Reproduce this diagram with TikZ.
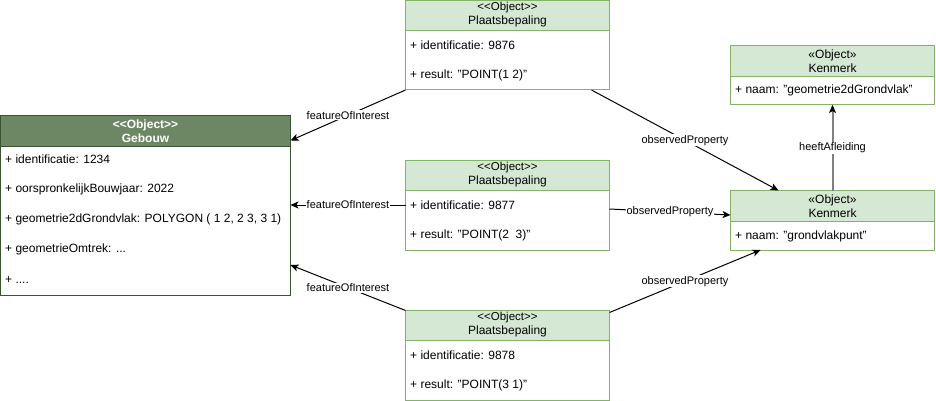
\documentclass[tikz,border=0pt]{standalone}
\usepackage{fontspec}
\setmainfont{Liberation Sans}
\usetikzlibrary{arrows.meta}
\definecolor{lgfill}{HTML}{D5E8D4}
\definecolor{lgdraw}{HTML}{82B366}
\definecolor{dgfill}{HTML}{6D8764}
\definecolor{dgdraw}{HTML}{3A5431}
\definecolor{grayline}{HTML}{808080}
\newcommand\umlbox[8]{%
  \node[boxshape, minimum width=#4pt, minimum height=#5pt] (#1) at (#2,#3) {};
  \fill[#7] (#1.north west) rectangle ([yshift=-#6pt]#1.north east);
  \draw[#8, line width=1pt] ([yshift=-#6pt]#1.north west) -- ([yshift=-#6pt]#1.north east);
  \draw[#8, line width=1pt] (#1.north west) rectangle (#1.south east);
}
\tikzset{
  boxshape/.style={rectangle, inner sep=0pt, outer sep=0pt, anchor=north west},
  hdr/.style={align=center, inner sep=0pt, font=\fontsize{12}{14}\selectfont},
  attr/.style={anchor=west, inner sep=0pt, font=\fontsize{12}{14}\selectfont},
  lbl/.style={fill=white, inner sep=1pt, font=\fontsize{11}{13}\selectfont},
  conn/.style={line width=1pt, -{Stealth[length=8pt,width=7pt,inset=2pt]}},
  gconn/.style={line width=2pt, draw=grayline, -{Stealth[length=8pt,width=7pt,inset=2pt,color=black,line width=0.5pt]}}
}
\begin{document}
\begin{tikzpicture}[x=1pt,y=-1pt]
\useasboundingbox (0,0) rectangle (936,401);

% Gebouw
\umlbox{geb}{0.5}{115.5}{290}{180}{31}{dgfill}{dgdraw}
\node[hdr, text=white, font=\fontsize{12}{14}\selectfont\bfseries] (gebh) at (145.5,131) {<{}<Object>{}>\\Gebouw};
\node[attr] (geb1) at (5,159) {+ identificatie: 1234};
\node[attr] (geb2) at (5,189) {+ oorspronkelijkBouwjaar: 2022};
\node[attr] (geb3) at (5,219) {+ geometrie2dGrondvlak: POLYGON ( 1 2, 2 3, 3 1)};
\node[attr] (geb4) at (5,249) {+ geometrieOmtrek: ...};
\node[attr] (geb5) at (5,280) {+ ....};

% Plaatsbepaling 1
\umlbox{p1}{405.5}{0.5}{204}{89.5}{30}{lgfill}{lgdraw}
\node[hdr] (p1h) at (507.5,15) {{\fontsize{11.5}{14}\selectfont <{}<Object>{}>}\\Plaatsbepaling};
\node[attr] (p1a) at (410,45) {+ identificatie: 9876};
\node[attr] (p1b) at (410,75) {+ result: "POINT(1 2)"};

% Plaatsbepaling 2
\umlbox{p2}{405.5}{160.5}{204}{89.5}{30}{lgfill}{lgdraw}
\node[hdr] (p2h) at (507.5,175) {{\fontsize{11.5}{14}\selectfont <{}<Object>{}>}\\Plaatsbepaling};
\node[attr] (p2a) at (410,205) {+ identificatie: 9877};
\node[attr] (p2b) at (410,235) {+ result: "POINT(2~~3)"};

% Plaatsbepaling 3
\umlbox{p3}{405.5}{310.5}{204}{89.5}{30}{lgfill}{lgdraw}
\node[hdr] (p3h) at (507.5,325) {{\fontsize{11.5}{14}\selectfont <{}<Object>{}>}\\Plaatsbepaling};
\node[attr] (p3a) at (410,355) {+ identificatie: 9878};
\node[attr] (p3b) at (410,385) {+ result: "POINT(3 1)"};

% Kenmerk 1
\umlbox{k1}{730.5}{45.5}{204}{59.5}{31}{lgfill}{lgdraw}
\node[hdr] (k1h) at (832.5,61) {«Object»\\Kenmerk};
\node[attr] (k1a) at (735,90.5) {+ naam: "geometrie2dGrondvlak"};

% Kenmerk 2
\umlbox{k2}{730.5}{190.5}{204}{59.5}{31}{lgfill}{lgdraw}
\node[hdr] (k2h) at (832.5,206) {«Object»\\Kenmerk};
\node[attr] (k2a) at (735,236) {+ naam: "grondvlakpunt"};

% connectors
\draw[conn] (p1.south west) -- node[lbl] (l1) {featureOfInterest} ([yshift=-25pt]geb.north east);
\draw[conn] ([yshift=-44.5pt]p2.north west) -- node[lbl] (l2) {featureOfInterest} ([yshift=-89.5pt]geb.north east);
\draw[conn] (p3.north west) -- node[lbl] (l3) {featureOfInterest} ([yshift=-149.5pt]geb.north east);
\draw[conn] ([xshift=-18pt]p1.south east) -- node[lbl] (l4) {observedProperty} ([xshift=48pt]k2.north west);
\draw[conn] ([yshift=-48.5pt]p2.north east) -- node[lbl] (l5) {observedProperty} ([yshift=-24.5pt]k2.north west);
\draw[conn] ([yshift=-2pt]p3.north east) -- node[lbl] (l6) {observedProperty} ([xshift=30pt]k2.south west);
\draw[gconn] (k2.north) -- node[lbl] (l7) {heeftAfleiding} (k1.south);
\end{tikzpicture}
\end{document}
